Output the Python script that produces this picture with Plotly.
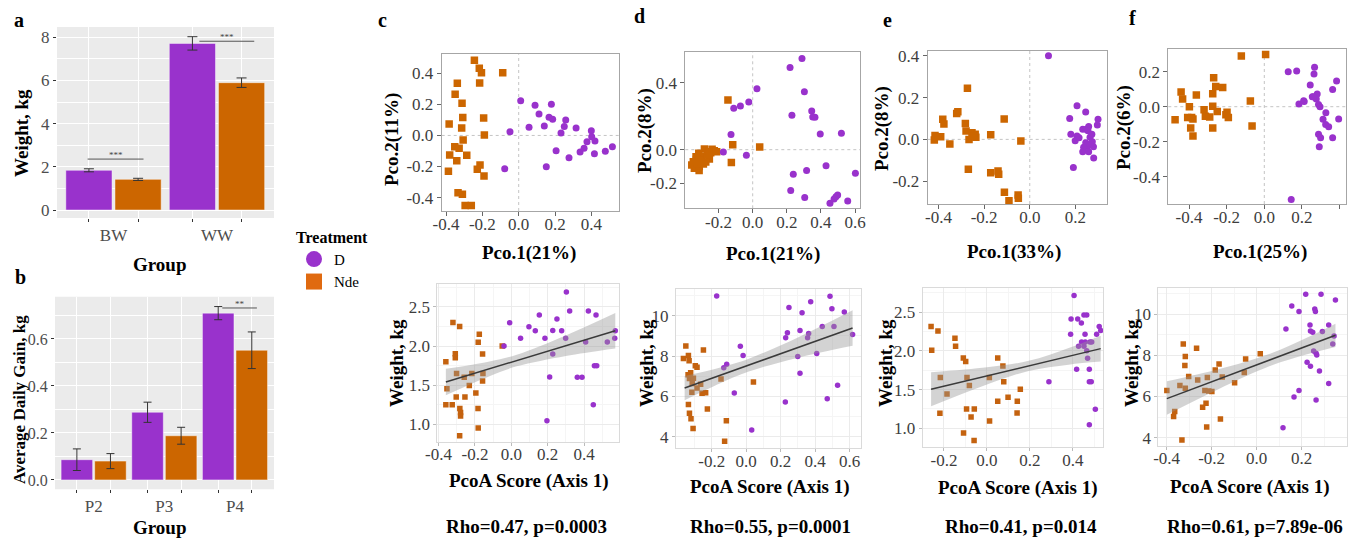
import plotly.graph_objects as go

W, H = 1348, 538
PURPLE = '#9932CC'
ORANGE = '#CC6600'
FONT = 'Liberation Serif'
TICKC = '#3d3d3d'
TICK_SIZE = 17
TITLE_SIZE = 19

# ------------------------------------------------------------------ data
groups_a = ['BW', 'WW']
weight_D = [1.84, 7.72]
weight_D_se = [0.07, 0.31]
weight_N = [1.42, 5.90]
weight_N_se = [0.05, 0.22]

groups_b = ['P2', 'P3', 'P4']
adg_D = [0.086, 0.288, 0.710]
adg_D_se = [0.046, 0.043, 0.028]
adg_N = [0.080, 0.188, 0.552]
adg_N_se = [0.032, 0.036, 0.078]

# significance brackets: (x start, x end, y, label)
sig_a = [(-0.25, 0.29, 2.36, '***'), (0.83, 1.36, 7.82, '***')]
sig_b = [(1.82, 2.31, 0.732, '**')]

# PCoA scores (Pco.1, Pco.2)
pco_c_N = [(-0.244,0.484),(-0.217,0.432),(-0.205,0.404),(-0.088,0.404),(-0.215,0.338),(-0.338,0.336),(-0.350,0.265),(-0.312,0.207),(-0.308,0.115),(-0.193,0.112),(-0.383,0.074),(-0.314,0.048),(-0.189,0.003),(-0.306,-0.029),(-0.352,-0.072),(-0.328,-0.083),(-0.380,-0.126),(-0.286,-0.128),(-0.341,-0.162),(-0.213,-0.190),(-0.228,-0.218),(-0.191,-0.261),(-0.387,-0.231),(-0.334,-0.368),(-0.310,-0.379),(-0.295,-0.450),(-0.261,-0.450)]
pco_c_D = [(0.011,0.224),(-0.048,0.024),(-0.077,-0.214),(0.057,0.052),(0.090,0.194),(0.112,0.138),(0.141,0.061),(0.167,0.117),(0.180,0.200),(0.187,0.104),(0.152,-0.201),(0.206,-0.098),(0.233,0.016),(0.251,0.057),(0.259,0.100),(0.277,-0.143),(0.316,0.048),(0.338,-0.106),(0.360,-0.083),(0.376,-0.040),(0.400,0.031),(0.402,-0.008),(0.420,-0.036),(0.417,-0.117),(0.477,-0.102),(0.516,-0.072)]
pco_d_N = [(-0.145,0.297),(-0.117,0.030),(-0.125,-0.076),(0.041,0.016),(-0.283,0.004),(-0.225,-0.006),(-0.246,-0.018),(-0.316,-0.022),(-0.299,-0.042),(-0.254,-0.056),(-0.330,-0.058),(-0.275,-0.074),(-0.357,-0.092),(-0.334,-0.096),(-0.313,-0.101),(-0.342,-0.111),(-0.314,-0.125),(-0.299,-0.062),(-0.324,-0.082),(-0.266,-0.032),(-0.238,0.002),(-0.211,-0.012),(-0.332,-0.042),(-0.289,-0.086),(-0.309,-0.072),(-0.348,-0.072),(-0.256,-0.012)]
pco_d_D = [(0.289,0.545),(0.219,0.490),(0.303,0.346),(0.025,0.364),(-0.023,0.285),(-0.072,0.261),(-0.111,0.247),(0.230,0.205),(0.346,0.231),(0.352,0.195),(0.365,0.193),(-0.127,0.090),(0.396,0.094),(0.520,0.098),(-0.172,-0.014),(-0.037,-0.034),(0.430,-0.096),(0.238,-0.147),(0.316,-0.125),(0.602,-0.141),(0.223,-0.243),(0.305,-0.285),(0.453,-0.320),(0.477,-0.295),(0.488,-0.281),(0.498,-0.271),(0.557,-0.306)]
pco_e_N = [(-0.273,0.244),(-0.315,0.132),(-0.320,0.124),(-0.381,0.096),(-0.376,0.073),(-0.282,0.076),(-0.279,0.040),(-0.415,0.019),(-0.390,0.013),(-0.418,-0.003),(-0.350,-0.022),(-0.266,0.000),(-0.253,0.032),(-0.239,0.025),(-0.236,0.010),(-0.247,0.016),(-0.171,0.022),(-0.112,0.097),(-0.039,-0.008),(-0.269,-0.143),(-0.171,-0.159),(-0.139,-0.151),(-0.136,-0.167),(-0.111,-0.253),(-0.091,-0.293),(-0.051,-0.266),(-0.050,-0.282)]
pco_e_D = [(0.082,0.400),(0.207,0.161),(0.245,0.131),(0.175,0.100),(0.299,0.096),(0.296,0.069),(0.180,0.025),(0.207,0.016),(0.216,0.008),(0.199,-0.006),(0.232,0.048),(0.247,0.048),(0.258,0.061),(0.255,0.041),(0.264,0.010),(0.274,-0.011),(0.245,-0.016),(0.254,-0.032),(0.236,-0.038),(0.232,-0.059),(0.258,-0.059),(0.280,-0.089),(0.191,-0.135),(0.272,0.025),(0.279,-0.035)]
pco_f_N = [(-0.122,0.290),(0.007,0.299),(-0.269,0.166),(-0.258,0.116),(-0.221,0.110),(-0.442,0.084),(-0.434,0.044),(-0.361,0.067),(-0.274,0.074),(-0.474,-0.074),(-0.398,0.000),(-0.320,-0.017),(-0.274,0.002),(-0.250,-0.027),(-0.407,-0.061),(-0.386,-0.061),(-0.379,-0.070),(-0.313,-0.055),(-0.290,-0.059),(-0.204,-0.046),(-0.191,-0.061),(-0.074,0.032),(-0.065,-0.110),(-0.391,-0.122),(-0.274,-0.122),(-0.379,-0.168),(-0.198,-0.032)]
pco_f_D = [(0.127,0.200),(0.172,0.204),(0.267,0.225),(0.264,0.187),(0.244,0.124),(0.384,0.147),(0.363,0.099),(0.281,0.072),(0.255,0.057),(0.276,0.044),(0.212,0.030),(0.184,0.015),(0.288,0.013),(0.296,0.000),(0.327,-0.034),(0.395,-0.070),(0.312,-0.072),(0.326,-0.101),(0.342,-0.114),(0.288,-0.158),(0.299,-0.177),(0.363,-0.177),(0.292,-0.229),(0.143,-0.530),(0.209,0.034),(0.260,0.057)]

# PcoA score (Axis 1) vs weight
wt_c_N = [(-0.360,1.80),(-0.354,1.455),(-0.360,1.25),(-0.321,2.30),(-0.325,1.25),(-0.308,1.90),(-0.308,1.85),(-0.301,1.65),(-0.303,1.35),(-0.284,2.25),(-0.283,1.20),(-0.279,1.15),(-0.279,1.105),(-0.284,0.853),(-0.259,1.60),(-0.255,1.35),(-0.231,1.497),(-0.217,1.65),(-0.195,1.40),(-0.182,2.047),(-0.176,2.15),(-0.183,1.20),(-0.182,0.951),(-0.158,1.898),(-0.158,1.552),(-0.156,1.65),(-0.050,2.00)]
wt_c_D = [(-0.040,2.00),(-0.009,2.298),(0.051,2.098),(0.097,2.247),(0.132,2.196),(0.154,2.396),(0.185,2.098),(0.196,1.045),(0.211,1.604),(0.228,2.20),(0.228,1.898),(0.251,2.345),(0.277,2.196),(0.299,2.098),(0.303,2.69),(0.321,2.448),(0.363,1.60),(0.389,1.60),(0.409,2.051),(0.424,2.448),(0.451,1.25),(0.457,1.749),(0.470,1.749),(0.466,2.396),(0.528,2.051),(0.569,2.098),(0.572,2.196)]
wt_d_N = [(-0.364,7.88),(-0.350,8.50),(-0.335,8.02),(-0.331,7.77),(-0.337,7.07),(-0.329,6.88),(-0.322,7.17),(-0.325,6.94),(-0.313,6.64),(-0.315,6.20),(-0.335,5.59),(-0.329,5.16),(-0.320,4.89),(-0.308,4.40),(-0.295,7.52),(-0.285,7.44),(-0.285,6.41),(-0.264,6.60),(-0.256,6.15),(-0.248,8.30),(-0.235,6.18),(-0.225,5.37),(-0.146,6.86),(-0.115,4.79),(-0.125,3.77),(0.042,6.71),(-0.306,6.89)]
wt_d_D = [(-0.171,10.98),(-0.130,7.42),(-0.113,7.59),(-0.069,6.17),(-0.034,8.48),(-0.018,8.03),(0.032,4.33),(0.227,5.72),(0.229,8.91),(0.239,9.16),(0.248,10.41),(0.299,7.97),(0.312,7.14),(0.312,9.26),(0.324,10.15),(0.356,8.91),(0.362,9.12),(0.374,10.69),(0.409,8.13),(0.441,9.47),(0.470,5.88),(0.486,10.96),(0.497,10.35),(0.509,9.47),(0.530,6.55),(0.569,10.18),(0.617,9.07)]
wt_e_N = [(-0.260,2.315),(-0.257,2.009),(-0.228,2.259),(-0.217,1.655),(-0.219,1.194),(-0.186,1.444),(-0.149,2.164),(-0.146,2.060),(-0.110,1.909),(-0.109,0.940),(-0.099,1.862),(-0.093,1.655),(-0.095,1.250),(-0.082,1.552),(-0.074,1.147),(-0.059,1.250),(-0.060,0.841),(0.011,1.655),(0.012,1.095),(0.050,1.909),(0.050,1.349),(0.074,1.806),(0.078,1.603),(0.098,1.401),(0.141,1.349),(0.140,1.198),(0.155,1.504)]
wt_e_D = [(0.288,1.603),(0.405,2.716),(0.391,2.414),(0.389,2.216),(0.422,2.414),(0.417,1.763),(0.439,2.362),(0.426,2.060),(0.440,2.116),(0.451,2.466),(0.464,2.466),(0.456,2.216),(0.457,2.116),(0.464,2.004),(0.468,1.905),(0.479,2.116),(0.487,2.116),(0.476,1.763),(0.476,1.603),(0.485,1.603),(0.476,1.047),(0.504,1.246),(0.510,2.216),(0.522,2.315),(0.529,2.263),(0.451,2.060)]
wt_f_N = [(-0.399,6.29),(-0.369,5.03),(-0.364,5.27),(-0.341,6.53),(-0.332,3.89),(-0.326,8.55),(-0.319,7.50),(-0.317,7.94),(-0.317,6.40),(-0.302,6.97),(-0.267,8.34),(-0.262,6.80),(-0.240,5.48),(-0.230,6.29),(-0.225,5.67),(-0.222,4.52),(-0.219,6.92),(-0.213,6.27),(-0.199,6.24),(-0.184,7.29),(-0.167,7.58),(-0.161,4.91),(-0.153,6.95),(-0.098,6.67),(-0.055,7.16),(-0.049,7.82),(0.016,8.08)]
wt_f_D = [(0.117,4.48),(0.130,9.28),(0.156,10.39),(0.166,5.98),(0.188,10.13),(0.188,6.29),(0.218,10.96),(0.224,7.66),(0.237,9.47),(0.239,9.18),(0.239,7.47),(0.249,9.12),(0.253,8.21),(0.258,10.25),(0.264,8.10),(0.261,10.13),(0.264,5.83),(0.267,8.02),(0.279,7.24),(0.286,10.96),(0.292,9.15),(0.320,9.47),(0.320,6.63),(0.338,8.55),(0.350,10.68),(0.344,8.94)]

# fitted lines and confidence bands
fit_c_x, fit_c_y = [-0.36, 0.572], [1.54, 2.196]
band_c_x = [-0.36, -0.12, 0.03, 0.30, 0.572]
band_c_lo = [1.372, 1.615, 1.740, 1.874, 1.970]
band_c_hi = [1.708, 1.803, 1.890, 2.136, 2.422]
fit_d_x, fit_d_y = [-0.357, 0.617], [6.41, 9.39]
band_d_x = [-0.357, -0.15, 0.015, 0.30, 0.617]
band_d_lo = [5.81, 6.652, 7.228, 7.917, 8.51]
band_d_hi = [7.01, 7.434, 7.868, 8.923, 10.27]
fit_e_x, fit_e_y = [-0.26, 0.529], [1.504, 2.030]
band_e_x = [-0.26, 0.0, 0.194, 0.38, 0.529]
band_e_lo = [1.284, 1.566, 1.742, 1.823, 1.862]
band_e_hi = [1.724, 1.788, 1.872, 2.039, 2.198]
fit_f_x, fit_f_y = [-0.399, 0.350], [5.90, 8.97]
band_f_x = [-0.399, -0.17, 0.059, 0.22, 0.350]
band_f_lo = [5.12, 6.358, 7.477, 8.037, 8.405]
band_f_hi = [6.74, 7.320, 8.077, 8.837, 9.535]

pcoa_xlab = ['Pco.1(21%)', 'Pco.1(21%)', 'Pco.1(33%)', 'Pco.1(25%)']
pcoa_ylab = ['Pco.2(11%)', 'Pco.2(8%)', 'Pco.2(8%)', 'Pco.2(6%)']
rho_text = ['Rho=0.47, p=0.0003', 'Rho=0.55, p=0.0001', 'Rho=0.41, p=0.014', 'Rho=0.61, p=7.89e-06']

# tick values
ticks_top = {
    'c': ([-0.4, -0.2, 0.0, 0.2, 0.4], [-0.4, -0.2, 0.0, 0.2, 0.4]),
    'd': ([-0.2, 0.0, 0.2, 0.4, 0.6], [-0.2, 0.0, 0.4]),
    'e': ([-0.4, -0.2, 0.0, 0.2], [-0.2, 0.0, 0.2, 0.4]),
    'f': ([-0.4, -0.2, 0.0, 0.2, 0.4], [-0.4, -0.2, 0.0, 0.2]),
}
ticks_bot = {
    'c': ([-0.4, -0.2, 0.0, 0.2, 0.4], [1.0, 1.5, 2.0, 2.5]),
    'd': ([-0.2, 0.0, 0.2, 0.4, 0.6], [4, 6, 8, 10]),
    'e': ([-0.2, 0.0, 0.2, 0.4], [1.0, 1.5, 2.0, 2.5]),
    'f': ([-0.4, -0.2, 0.0, 0.2], [4, 6, 8, 10]),
}

# ------------------------------------------------------------------ layout geometry (pixels)
def dx(p0, p1):
    return [p0 / W, p1 / W]

def dy(top, bot):
    return [1 - bot / H, 1 - top / H]

def fmt(v, dec=1):
    return f'{v:.{dec}f}'

fig = go.Figure()
layout = dict(
    width=W, height=H, margin=dict(l=0, r=0, t=0, b=0, pad=0, autoexpand=False),
    paper_bgcolor='white', plot_bgcolor='white',
    font=dict(family=FONT, color='black'),
    barmode='group', bargap=0.05, bargroupgap=0.06,
    showlegend=True,
)
shapes = []
annotations = []

def ann(text, xp, yp, size, angle=0, bold=True, color='black'):
    annotations.append(dict(
        text=f'<b>{text}</b>' if bold else text, x=xp / W, y=1 - yp / H,
        xref='paper', yref='paper', showarrow=False, textangle=angle,
        xanchor='center', yanchor='middle',
        font=dict(family=FONT, size=size, color=color)))

# ------------------------------------------------------------------ bar panels
def bar_panel(idx, cats, dvals, dse, nvals, nse, xr, yr, xdom, ydom, yt, ytt, sig, ysize):
    xa, ya = f'x{idx if idx > 1 else ""}', f'y{idx if idx > 1 else ""}'
    pos = list(range(len(cats)))
    for vals, se, col, nm in [(dvals, dse, PURPLE, 'D'), (nvals, nse, ORANGE, 'Nde')]:
        fig.add_trace(go.Bar(
            x=pos, y=vals, name=nm, showlegend=False, xaxis=xa, yaxis=ya,
            marker=dict(color=col, line=dict(color='rgba(255,255,255,0.45)', width=1)),
            error_y=dict(type='data', array=se, color='#333333', thickness=1, width=5 if idx == 1 else 4),
        ))
    centers = [p + s * 0.2375 for p in pos for s in (-1, 1)]
    minor_y = [(yt[i] + yt[i + 1]) / 2 for i in range(len(yt) - 1)] + [yt[-1] + (yt[1] - yt[0]) / 2]
    key = '' if idx == 1 else str(idx)
    layout[f'xaxis{key}'] = dict(
        domain=xdom, range=xr, anchor=ya, tickmode='array', tickvals=pos, ticktext=cats,
        ticks='', showgrid=False, zeroline=False, showline=False, automargin=False,
        tickfont=dict(family=FONT, size=TICK_SIZE, color='#4D4D4D'), ticklabelstandoff=5,
        minor=dict(tickmode='array', tickvals=centers, ticks='outside', ticklen=3,
                   tickcolor='#333333', showgrid=True, gridcolor='white', gridwidth=1),
    )
    layout[f'yaxis{key}'] = dict(
        domain=ydom, range=yr, anchor=xa, tickmode='array', tickvals=yt, ticktext=ytt,
        ticks='outside', ticklen=3, tickcolor='#333333', showgrid=True, gridcolor='white',
        gridwidth=1.3, zeroline=False, showline=False, automargin=False,
        tickfont=dict(family=FONT, size=ysize, color='#4D4D4D'),
        minor=dict(tickmode='array', tickvals=minor_y, showgrid=True, gridcolor='white', gridwidth=0.6),
    )
    shapes.append(dict(type='rect', xref=f'{xa} domain', yref=f'{ya} domain', x0=0, x1=1, y0=0, y1=1,
                       fillcolor='#EBEBEB', line=dict(width=0), layer='below'))
    for x0, x1, yv, lab in sig:
        shapes.append(dict(type='line', xref=xa, yref=ya, x0=x0, x1=x1, y0=yv, y1=yv,
                           line=dict(color='#555555', width=1)))
        annotations.append(dict(text=lab, x=(x0 + x1) / 2, y=yv, xref=xa, yref=ya, showarrow=False,
                                yanchor='bottom', yshift=-3, font=dict(family=FONT, size=9, color='#444444')))

bar_panel(1, groups_a, weight_D, weight_D_se, weight_N, weight_N_se,
          [-0.546, 1.551], [-0.37, 8.48], dx(57, 274), dy(27, 218),
          [0, 2, 4, 6, 8], ['0', '2', '4', '6', '8'], sig_a, TICK_SIZE)
bar_panel(2, groups_b, adg_D, adg_D_se, adg_N, adg_N_se,
          [-0.547, 2.552], [-0.04, 0.78], dx(55, 274), dy(296.7, 489.3),
          [0.0, 0.2, 0.4, 0.6], ['0.0', '0.2', '0.4', '0.6'], sig_b, 16)

# ------------------------------------------------------------------ PCoA panels
top_geo = [
    (3, pco_c_D, pco_c_N, ticks_top['c'], [-0.424, 0.554], [-0.486, 0.522], dx(441.7, 619.3), dy(54.3, 211)),
    (4, pco_d_D, pco_d_N, ticks_top['d'], [-0.395, 0.629], [-0.350, 0.585], dx(685.3, 860), dy(51.7, 208.3)),
    (5, pco_e_D, pco_e_N, ticks_top['e'], [-0.447, 0.337], [-0.309, 0.424], dx(927.7, 1106.7), dy(50.7, 204)),
    (6, pco_f_D, pco_f_N, ticks_top['f'], [-0.510, 0.434], [-0.556, 0.328], dx(1168.3, 1346), dy(49.3, 204)),
]
for idx, dpts, npts, (xt, yt), xr, yr, xdom, ydom in top_geo:
    xa, ya = f'x{idx}', f'y{idx}'
    for pts, col, sym in [(npts, ORANGE, 'square'), (dpts, PURPLE, 'circle')]:
        xs, ys = zip(*pts)
        fig.add_trace(go.Scatter(x=list(xs), y=list(ys), mode='markers', showlegend=False,
                                 xaxis=xa, yaxis=ya,
                                 marker=dict(symbol=sym, size=7 if sym == 'circle' else 7.5, color=col,
                                             line=dict(width=0))))
    common = dict(showline=True, mirror=True, linecolor='#A6A6A6', linewidth=1, ticks='outside',
                  ticklen=4, tickcolor='#666666', showgrid=False, zeroline=False, automargin=False,
                  tickfont=dict(family=FONT, size=TICK_SIZE, color=TICKC), tickmode='array')
    layout[f'xaxis{idx}'] = dict(domain=xdom, range=xr, anchor=ya, tickvals=xt,
                                 ticktext=[fmt(v) for v in xt], ticklabelstandoff=-6, **common)
    layout[f'yaxis{idx}'] = dict(domain=ydom, range=yr, anchor=xa, tickvals=yt,
                                 ticktext=[fmt(v) for v in yt], **common)
    shapes.append(dict(type='line', xref=xa, yref=f'{ya} domain', x0=0, x1=0, y0=0, y1=1,
                       line=dict(color='#C4C4C4', width=1, dash='dot'), layer='below'))
    shapes.append(dict(type='line', xref=f'{xa} domain', yref=ya, x0=0, x1=1, y0=0, y1=0,
                       line=dict(color='#C4C4C4', width=1, dash='dot'), layer='below'))

# ------------------------------------------------------------------ correlation panels
bot_geo = [
    (7, wt_c_D, wt_c_N, ticks_bot['c'], [-0.407, 0.594], [0.777, 2.793], dx(437.3, 619.3), dy(284, 441.7),
     fit_c_x, fit_c_y, band_c_x, band_c_lo, band_c_hi, 1),
    (8, wt_d_D, wt_d_N, ticks_bot['d'], [-0.407, 0.664], [3.42, 11.31], dx(676, 860.7), dy(289.3, 448.3),
     fit_d_x, fit_d_y, band_d_x, band_d_lo, band_d_hi, 0),
    (9, wt_e_D, wt_e_N, ticks_bot['e'], [-0.299, 0.541], [0.754, 2.81], dx(922.7, 1103.3), dy(288.3, 447.3),
     fit_e_x, fit_e_y, band_e_x, band_e_lo, band_e_hi, 1),
    (10, wt_f_D, wt_f_N, ticks_bot['f'], [-0.437, 0.40], [3.60, 11.25], dx(1158.3, 1346.7), dy(288.3, 446),
     fit_f_x, fit_f_y, band_f_x, band_f_lo, band_f_hi, 0),
]
for idx, dpts, npts, (xt, yt), xr, yr, xdom, ydom, fx, fy, bx, blo, bhi, ydec in bot_geo:
    xa, ya = f'x{idx}', f'y{idx}'
    for pts, col, sym in [(npts, '#C4620F', 'square'), (dpts, PURPLE, 'circle')]:
        xs, ys = zip(*pts)
        fig.add_trace(go.Scatter(x=list(xs), y=list(ys), mode='markers', showlegend=False,
                                 xaxis=xa, yaxis=ya,
                                 marker=dict(symbol=sym, size=5.5, color=col, line=dict(width=0))))
    fig.add_trace(go.Scatter(x=bx, y=blo, mode='lines', line=dict(width=0, shape='spline'),
                             showlegend=False, xaxis=xa, yaxis=ya, hoverinfo='skip'))
    fig.add_trace(go.Scatter(x=bx, y=bhi, mode='lines', line=dict(width=0, shape='spline'),
                             fill='tonexty', fillcolor='rgba(150,150,150,0.42)',
                             showlegend=False, xaxis=xa, yaxis=ya, hoverinfo='skip'))
    fig.add_trace(go.Scatter(x=fx, y=fy, mode='lines', line=dict(color='#3A3A3A', width=1.5),
                             showlegend=False, xaxis=xa, yaxis=ya))
    xstep = xt[1] - xt[0]
    ystep = yt[1] - yt[0]
    minor_x = [v + xstep / 2 for v in xt] + [xt[0] - xstep / 2]
    minor_y = [v + ystep / 2 for v in yt] + [yt[0] - ystep / 2]
    common = dict(showline=True, mirror=True, linecolor='#DADADA', linewidth=1, ticks='outside',
                  ticklen=3, tickcolor='#BBBBBB', showgrid=True, gridcolor='#EBEBEB', gridwidth=1,
                  zeroline=False, automargin=False,
                  tickfont=dict(family=FONT, size=TICK_SIZE, color=TICKC), tickmode='array')
    layout[f'xaxis{idx}'] = dict(domain=xdom, range=xr, anchor=ya, tickvals=xt,
                                 ticktext=[fmt(v) for v in xt], ticklabelstandoff=-6,
                                 minor=dict(tickmode='array', tickvals=minor_x, showgrid=True,
                                            gridcolor='#F5F5F5', gridwidth=1), **common)
    layout[f'yaxis{idx}'] = dict(domain=ydom, range=yr, anchor=xa, tickvals=yt,
                                 ticktext=[fmt(v, ydec) for v in yt],
                                 minor=dict(tickmode='array', tickvals=minor_y, showgrid=True,
                                            gridcolor='#F5F5F5', gridwidth=1), **common)

# ------------------------------------------------------------------ legend
fig.add_trace(go.Scatter(x=[None], y=[None], mode='markers', name='D', xaxis='x3', yaxis='y3',
                         marker=dict(symbol='circle', size=20, color=PURPLE)))
fig.add_trace(go.Scatter(x=[None], y=[None], mode='markers', name='Nde', xaxis='x3', yaxis='y3',
                         marker=dict(symbol='square', size=20, color='#E06A10')))
layout['legend'] = dict(x=294 / W, y=1 - 222 / H, xanchor='left', yanchor='top',
                        bgcolor='rgba(0,0,0,0)', itemsizing='trace', traceorder='normal',
                        tracegroupgap=0, font=dict(family=FONT, size=15, color='black'),
                        title=dict(text='<b>Treatment</b>', font=dict(family=FONT, size=16)))

# ------------------------------------------------------------------ text
for lab, xp, yp in [('a', 19, 20), ('b', 20, 277), ('c', 382, 20), ('d', 639, 16), ('e', 887, 20), ('f', 1132, 18)]:
    ann(lab, xp, yp, 20)

ann('Weight, kg', 22, 133, TITLE_SIZE, angle=-90)
ann('Group', 160, 264, TITLE_SIZE)
ann('Average Daily Gain, kg', 19, 400, 17, angle=-90)
ann('Group', 160, 527, TITLE_SIZE)

for lab, xp, yp in zip(pcoa_ylab, [392, 645, 882, 1124], [140, 131, 129, 128]):
    ann(lab, xp, yp, TITLE_SIZE, angle=-90)
for lab, xp, yp in zip(pcoa_xlab, [529, 773, 1014, 1260], [253, 254, 252, 252]):
    ann(lab, xp, yp, TITLE_SIZE)
for xp in [396, 646, 885, 1131]:
    ann('Weight, kg', xp, 363, TITLE_SIZE, angle=-90)
for xp, yp in zip([529, 770, 1018, 1250], [481, 487, 488, 487]):
    ann('PcoA Score (Axis 1)', xp, yp, TITLE_SIZE)
for lab, xp in zip(rho_text, [526, 770, 1021, 1255]):
    ann(lab, xp, 526, TITLE_SIZE)

layout['shapes'] = shapes
layout['annotations'] = annotations
fig.update_layout(**layout)
fig.write_html('out.html')
